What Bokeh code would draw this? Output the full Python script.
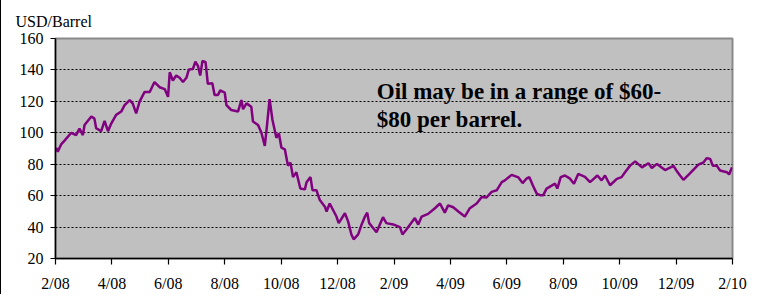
from bokeh.plotting import figure
from bokeh.models import FixedTicker, Label, Title, ColumnDataSource, Range1d
from bokeh.embed import file_html
from bokeh.resources import INLINE

# months since Feb 2008 (fractional) and oil price, USD/Barrel
months = [0.02, 0.08, 0.20, 0.32, 0.56, 0.73, 0.85, 0.97, 1.03, 1.27, 1.38, 1.44, 1.62, 1.74, 1.86, 1.98,
          2.15, 2.33, 2.45, 2.63, 2.74, 2.86, 2.98, 3.16, 3.34, 3.51, 3.69, 3.87, 3.99, 4.05, 4.16, 4.28,
          4.40, 4.52, 4.64, 4.73, 4.87, 4.96, 5.05, 5.13, 5.21, 5.32, 5.40, 5.56, 5.64, 5.76, 5.84, 6.00,
          6.06, 6.23, 6.47, 6.59, 6.65, 6.77, 6.94, 7.00, 7.18, 7.30, 7.42, 7.48, 7.59, 7.69, 7.83, 7.92,
          8.01, 8.13, 8.24, 8.33, 8.42, 8.54, 8.68, 8.84, 8.90, 9.04, 9.11, 9.25, 9.37, 9.55, 9.61, 9.72,
          9.96, 10.04, 10.26, 10.37, 10.49, 10.57, 10.73, 10.85, 10.97, 11.05, 11.12, 11.26, 11.38, 11.61,
          11.73, 11.97, 12.21, 12.30, 12.44, 12.74, 12.86, 12.98, 13.21, 13.45, 13.63, 13.80, 13.92, 14.10,
          14.28, 14.51, 14.69, 14.93, 15.11, 15.28, 15.46, 15.64, 15.82, 15.93, 16.17, 16.41, 16.56, 16.70,
          16.80, 16.92, 17.06, 17.18, 17.29, 17.41, 17.71, 17.79, 17.91, 18.06, 18.24, 18.38, 18.53, 18.77,
          18.95, 19.21, 19.36, 19.48, 19.66, 19.90, 20.07, 20.19, 20.37, 20.55, 20.79, 21.02, 21.14, 21.32,
          21.61, 21.91, 22.03, 22.14, 22.26, 22.50, 22.62, 22.79, 22.97, 23.09, 23.21, 23.30, 23.44, 23.56,
          23.80, 23.88, 23.98]
prices = [90.5, 88.0, 92.6, 95.0, 100.0, 98.5, 102.6, 98.5, 105.0, 110.4, 109.0, 103.0, 101.0, 107.6, 101.0, 106.0,
          111.4, 113.5, 117.6, 120.8, 118.6, 112.4, 119.8, 126.0, 126.0, 132.3, 129.0, 127.8, 122.9, 138.5, 133.3, 136.4,
          135.0, 132.3, 135.0, 140.3, 140.6, 145.2, 142.6, 136.4, 145.8, 145.0, 131.2, 131.5, 124.0, 124.0, 127.0, 125.5,
          117.6, 114.5, 113.5, 120.8, 115.0, 118.7, 116.6, 107.2, 105.0, 100.0, 91.6, 101.5, 121.4, 108.3, 96.8, 99.6,
          90.5, 89.5, 79.1, 81.0, 71.8, 74.9, 64.5, 64.0, 68.5, 71.8, 63.5, 63.5, 57.2, 53.0, 49.9, 55.0,
          46.7, 42.5, 48.8, 43.8, 35.3, 32.2, 35.3, 41.5, 46.7, 49.2, 42.5, 39.4, 36.7, 46.3,
          42.5, 41.7, 40.0, 35.3, 38.4, 45.7, 41.6, 46.7, 48.4, 52.0, 55.0, 49.2, 53.8, 52.6,
          49.9, 46.7, 52.0, 55.0, 59.2, 58.8, 62.4, 63.4, 68.6, 69.7, 73.2, 71.6, 68.0, 70.9,
          71.7, 66.6, 61.3, 60.3, 60.3, 64.5, 67.6, 64.5, 71.8, 72.8, 70.8, 67.6, 73.8, 72.0,
          68.6, 72.8, 69.7, 72.8, 66.6, 70.7, 71.8, 74.9, 79.1, 81.8, 78.0, 80.6, 77.6, 80.2,
          76.3, 79.0, 75.5, 72.8, 70.1, 74.3, 76.6, 79.7, 81.1, 83.9, 83.3, 79.1, 79.1, 76.0,
          74.9, 73.5, 78.0]

tick_positions = [0, 2, 4, 6, 8, 10, 12, 14, 16, 18, 20, 22, 24]
tick_labels = ["2/08", "4/08", "6/08", "8/08", "10/08", "12/08", "2/09", "4/09", "6/09", "8/09",
               "10/09", "12/09", "2/10"]
y_ticks = [20, 40, 60, 80, 100, 120, 140, 160]
grid_ticks = [40, 60, 80, 100, 120, 140]

FONT = "Liberation Serif"

p = figure(width=748, height=294, output_backend="svg", toolbar_location=None,
           x_range=Range1d(0, 24), y_range=Range1d(20, 160),
           min_border_left=54, min_border_right=17, min_border_top=38, min_border_bottom=32)
p.styles = {"border-left": "1px solid black"}
p.border_fill_color = "white"
p.background_fill_color = "#C0C0C0"
p.outline_line_color = "#8a8a8a"
p.outline_line_width = 2

src = ColumnDataSource(dict(x=months, y=prices))
p.line("x", "y", source=src, line_color="#800080", line_width=2.5)

# axes
p.xaxis.ticker = FixedTicker(ticks=tick_positions)
p.xaxis.major_label_overrides = {t: l for t, l in zip(tick_positions, tick_labels)}
p.yaxis.ticker = FixedTicker(ticks=y_ticks)
for ax in (p.xaxis, p.yaxis):
    ax.axis_line_color = "black"
    ax.axis_line_width = 1.5
    ax.major_tick_line_color = "black"
    ax.major_tick_line_width = 1.2
    ax.major_tick_in = 0
    ax.minor_tick_line_color = None
    ax.major_label_text_font = FONT
    ax.major_label_text_font_size = "16px"
    ax.major_label_text_color = "black"
p.xaxis.major_tick_out = 6
p.yaxis.major_tick_out = 5
p.xaxis.major_label_standoff = 10
p.yaxis.major_label_standoff = 7

p.xgrid.grid_line_color = None
p.ygrid.ticker = FixedTicker(ticks=grid_ticks)
p.ygrid.grid_line_color = "black"
p.ygrid.grid_line_dash = "2 2"
p.ygrid.grid_line_width = 1

# unit title
p.title = Title(text="USD/Barrel", align="left", offset=-40, text_font=FONT,
                text_font_size="16px", text_font_style="normal", text_color="black", standoff=17)

# annotation
p.add_layout(Label(x=11.39, y=134.5, text="Oil may be in a range of $60-", text_font=FONT,
                   text_font_size="23px", text_font_style="bold", text_color="black",
                   text_baseline="top", text_align="left"))
p.add_layout(Label(x=11.39, y=116.6, text="$80 per barrel.", text_font=FONT,
                   text_font_size="23px", text_font_style="bold", text_color="black",
                   text_baseline="top", text_align="left"))

open("out.html", "w").write(file_html(p, INLINE))
